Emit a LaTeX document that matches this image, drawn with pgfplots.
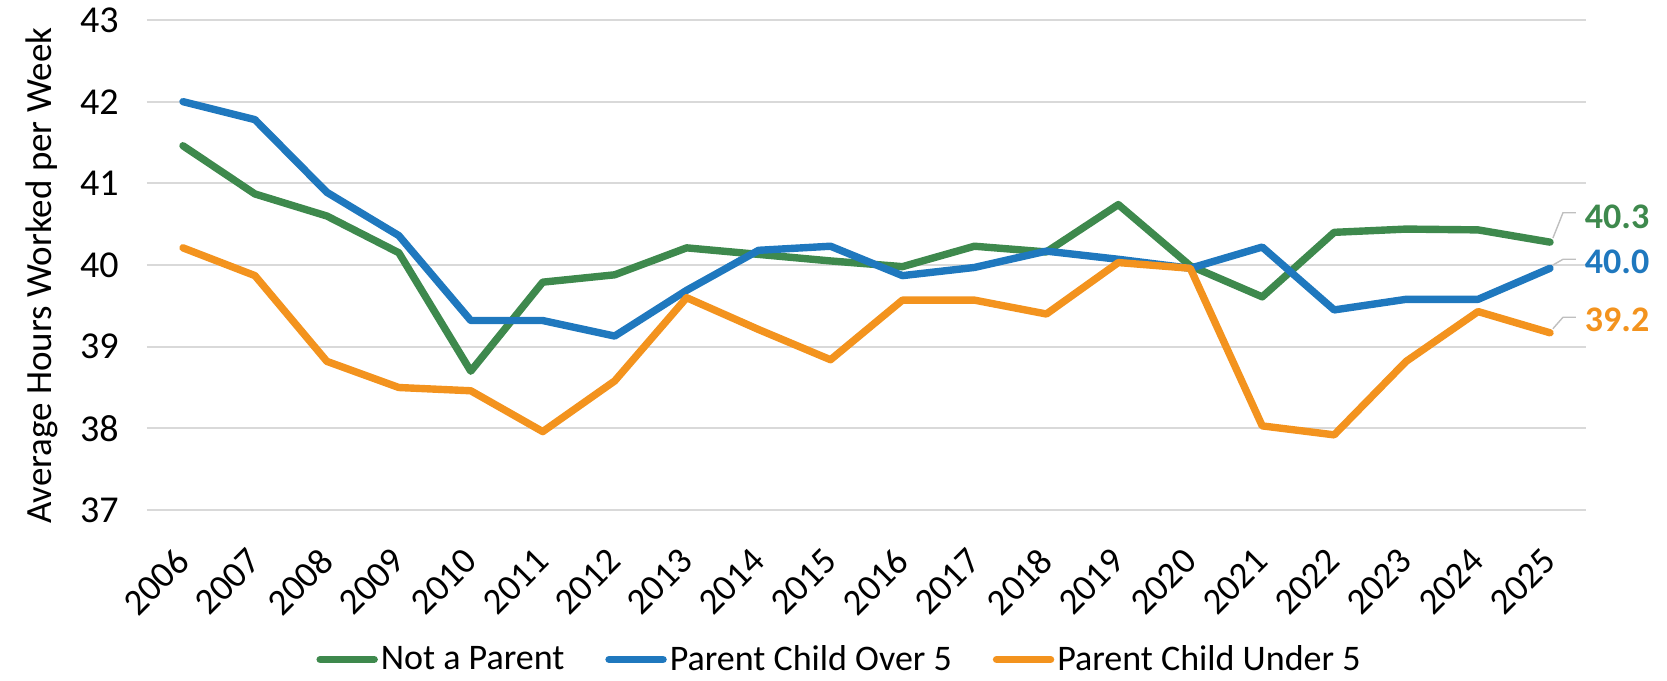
\documentclass[border=0pt]{standalone}
\usepackage{pgfplots}
\pgfplotsset{compat=1.18}
\usepackage{fontspec}
\setmainfont{Carlito}
\definecolor{cgreen}{RGB}{62,137,77}
\definecolor{cblue}{RGB}{31,120,190}
\definecolor{corange}{RGB}{243,147,30}
\definecolor{cgrid}{RGB}{217,217,217}
\definecolor{cleader}{RGB}{191,191,191}
\begin{document}
\begin{tikzpicture}
\useasboundingbox (-73.5bp,-85.5bp) rectangle (760bp,255bp);
\begin{axis}[
  width=719.5bp, height=245bp, scale only axis,
  xmin=2005.5, xmax=2025.5, ymin=37, ymax=43,
  xtick={2006,...,2025}, ytick={37,...,43},
  /pgf/number format/assume math mode=true,
  /pgf/number format/1000 sep={},
  axis line style={draw=none},
  major tick length=0pt,
  ymajorgrids, grid style={cgrid, line width=1bp},
  yticklabel style={font=\fontsize{19bp}{22bp}\selectfont, anchor=east, inner sep=0pt, xshift=-14bp},
  xticklabel style={font=\fontsize{18.5bp}{22bp}\selectfont, rotate=45, anchor=east, inner sep=0pt},
  xticklabel shift=22.5bp,
  ylabel={Average Hours Worked per Week},
  ylabel style={font=\fontsize{18.5bp}{22bp}\selectfont, at={(axis description cs:-0.073,0.478)}, anchor=center},
  clip=false,
  legend columns=3,
  legend style={draw=none, fill=none, at={(axis description cs:0.4816,-0.305)}, anchor=center,
    font=\fontsize{18bp}{21bp}\selectfont,
    /tikz/every even column/.append style={column sep=19bp},
    nodes={inner sep=1.5bp}},
  legend image code/.code={\draw[#1, line cap=round] (0bp,0bp) -- (27bp,0bp);},
  every axis plot/.append style={line width=3.7bp, line join=round, line cap=round, mark=none},
]
\addplot[cgreen] coordinates {
(2006,41.46) (2007,40.87) (2008,40.60) (2009,40.15) (2010,38.70)
(2011,39.79) (2012,39.88) (2013,40.21) (2014,40.13) (2015,40.05)
(2016,39.98) (2017,40.23) (2018,40.16) (2019,40.74) (2020,39.99)
(2021,39.61) (2022,40.40) (2023,40.44) (2024,40.43) (2025,40.28)};
\addlegendentry{Not a Parent}
\addplot[cblue] coordinates {
(2006,42.00) (2007,41.78) (2008,40.89) (2009,40.36) (2010,39.32)
(2011,39.32) (2012,39.13) (2013,39.69) (2014,40.18) (2015,40.23)
(2016,39.87) (2017,39.97) (2018,40.17) (2019,40.07) (2020,39.96)
(2021,40.22) (2022,39.45) (2023,39.58) (2024,39.58) (2025,39.96)};
\addlegendentry{Parent Child Over 5}
\addplot[corange] coordinates {
(2006,40.21) (2007,39.87) (2008,38.82) (2009,38.50) (2010,38.46)
(2011,37.96) (2012,38.58) (2013,39.60) (2014,39.21) (2015,38.84)
(2016,39.57) (2017,39.57) (2018,39.40) (2019,40.03) (2020,39.96)
(2021,38.03) (2022,37.92) (2023,38.82) (2024,39.43) (2025,39.17)};
\addlegendentry{Parent Child Under 5}
\draw[cleader, line width=0.7bp] (axis cs:2025.04,40.33) -- (axis cs:2025.18,40.64) -- (axis cs:2025.36,40.64);
\draw[cleader, line width=0.7bp] (axis cs:2025.04,40.0) -- (axis cs:2025.18,40.07) -- (axis cs:2025.36,40.07);
\draw[cleader, line width=0.7bp] (axis cs:2025.04,39.22) -- (axis cs:2025.18,39.36) -- (axis cs:2025.36,39.36);
\node[anchor=west, inner sep=0pt, text=cgreen, font=\fontsize{18bp}{22bp}\selectfont\bfseries] at (axis cs:2025.48,40.59) {40.3};
\node[anchor=west, inner sep=0pt, text=cblue, font=\fontsize{18bp}{22bp}\selectfont\bfseries] at (axis cs:2025.48,40.04) {40.0};
\node[anchor=west, inner sep=0pt, text=corange, font=\fontsize{18bp}{22bp}\selectfont\bfseries] at (axis cs:2025.48,39.33) {39.2};
\end{axis}
\end{tikzpicture}
\end{document}
